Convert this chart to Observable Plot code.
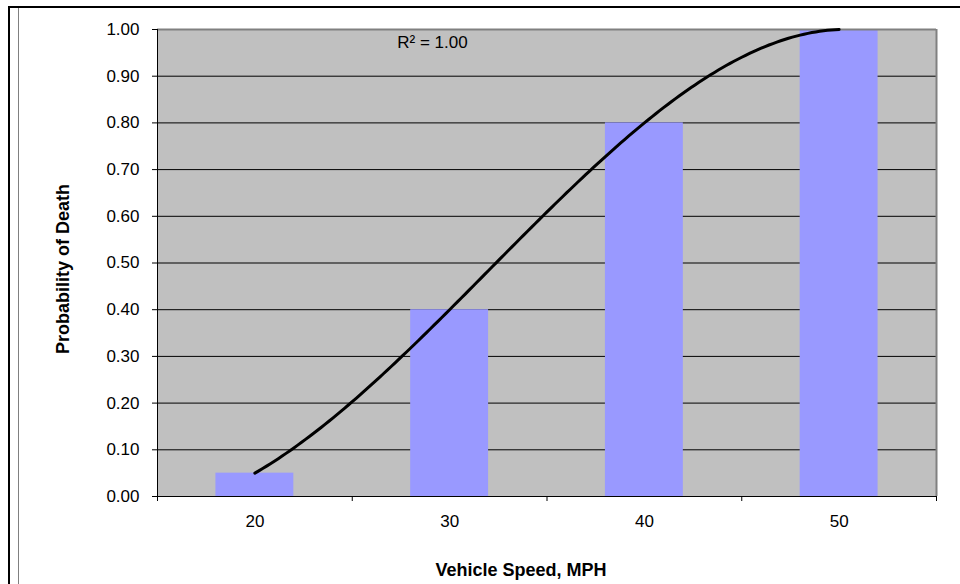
<!DOCTYPE html>
<html>
<head>
<meta charset="utf-8">
<script src="https://cdn.jsdelivr.net/npm/d3@7"></script>
<script src="https://cdn.jsdelivr.net/npm/@observablehq/plot@0.6"></script>
<style>
  body { margin: 0; background: #fff; }
  #wrap { position: relative; width: 960px; height: 584px; overflow: hidden; font-family: "Liberation Sans", Arial, sans-serif; }
  #wrap svg { position: absolute; left: 0; top: 0; }
  .bt { position: absolute; left: 8px; top: 6px; right: 0; height: 2px; background: #000; }
  .bl { position: absolute; left: 8px; top: 6px; bottom: 0; width: 2px; background: #000; }
  .gl { position: absolute; left: 18px; top: 8px; bottom: 0; width: 1px; background: #808080; }
</style>
</head>
<body>
<div id="wrap"><div class="bt"></div><div class="bl"></div><div class="gl"></div></div>
<script>
// ---- data ----
const speeds = [20, 30, 40, 50];            // Vehicle Speed, MPH (categories)
const probDeath = [0.05, 0.40, 0.80, 1.00];  // Probability of Death
const yTicks = [0, 0.1, 0.2, 0.3, 0.4, 0.5, 0.6, 0.7, 0.8, 0.9, 1.0];
const xBoundaries = [15, 25, 35, 45, 55];    // category boundary ticks
const gridLines = [0.1, 0.2, 0.3, 0.4, 0.5, 0.6, 0.7, 0.8, 0.9];

const data = speeds.map((s, i) => ({speed: s, p: probDeath[i]}));

// ---- polynomial (order 3) trendline, least squares, as in the spreadsheet ----
function polyfit(xs, ys, order) {
  const n = order + 1;
  const A = Array.from({length: n}, () => new Array(n + 1).fill(0));
  for (let k = 0; k < xs.length; k++) {
    for (let i = 0; i < n; i++) {
      for (let j = 0; j < n; j++) A[i][j] += Math.pow(xs[k], i + j);
      A[i][n] += ys[k] * Math.pow(xs[k], i);
    }
  }
  for (let c = 0; c < n; c++) {
    let piv = c;
    for (let r = c + 1; r < n; r++) if (Math.abs(A[r][c]) > Math.abs(A[piv][c])) piv = r;
    [A[c], A[piv]] = [A[piv], A[c]];
    for (let r = 0; r < n; r++) {
      if (r === c) continue;
      const f = A[r][c] / A[c][c];
      for (let k = c; k <= n; k++) A[r][k] -= f * A[c][k];
    }
  }
  return A.map((row, i) => row[n] / A[i][i]);
}
// Spreadsheet category trendline uses category index 1..n
const idx = speeds.map((_, i) => i + 1);
const coef = polyfit(idx, probDeath, 3);
const poly = t => coef.reduce((s, c, i) => s + c * Math.pow(t, i), 0);
const meanP = d3.mean(probDeath);
const ssTot = d3.sum(probDeath, v => (v - meanP) ** 2);
const ssRes = d3.sum(idx, (t, i) => (probDeath[i] - poly(t)) ** 2);
const r2 = 1 - ssRes / ssTot;
const step = speeds[1] - speeds[0];
const trend = d3.range(1, speeds.length + 1e-9, 0.02).map(t => ({speed: speeds[0] + (t - 1) * step, p: poly(t)}));

const halfBar = 2;
const font = "'Liberation Sans', Arial, sans-serif";

const chart = Plot.plot({
  width: 960,
  height: 584,
  marginLeft: 157,
  marginRight: 24,
  marginTop: 29,
  marginBottom: 88,
  style: {fontFamily: font, fontSize: "17px", background: "transparent", color: "#000"},
  x: {domain: [15, 55]},
  y: {domain: [0, 1]},
  marks: [
    Plot.frame({fill: "#C0C0C0", stroke: null}),
    Plot.ruleY(gridLines, {stroke: "#000", strokeWidth: 1}),
    Plot.rect(data, {x1: d => d.speed - halfBar, x2: d => d.speed + halfBar, y1: 0, y2: "p", fill: "#9999FF"}),
    Plot.ruleY([1], {stroke: "#808080", strokeWidth: 2}),
    Plot.ruleX([55], {stroke: "#808080", strokeWidth: 2}),
    Plot.ruleX([15], {stroke: "#000", strokeWidth: 1}),
    Plot.ruleY([0], {stroke: "#000", strokeWidth: 1}),
    Plot.line(trend, {x: "speed", y: "p", stroke: "#000", strokeWidth: 3, curve: "linear"}),
    Plot.axisY({ticks: yTicks, tickFormat: d3.format(".2f"), tickSize: 5, tickPadding: 13, label: null, fontSize: 17}),
    Plot.axisX({ticks: xBoundaries, tickFormat: () => "", tickSize: 5, label: null}),
    Plot.axisX({ticks: speeds, tickFormat: d => String(d), tickSize: 0, tickPadding: 18, label: null, fontSize: 17}),
    Plot.text([`R\u00B2 = ${r2.toFixed(2)}`], {text: d => d, frameAnchor: "top-left", dx: 275, dy: 13, textAnchor: "middle", lineAnchor: "middle", fontSize: 17, fill: "#000"}),
    Plot.text(["Probability of Death"], {text: d => d, frameAnchor: "left", dx: -94, dy: 6, rotate: -90, textAnchor: "middle", lineAnchor: "middle", fontSize: 18, fontWeight: "bold", fill: "#000"}),
    Plot.text(["Vehicle Speed, MPH"], {text: d => d, frameAnchor: "bottom", dx: -26, dy: 74, textAnchor: "middle", lineAnchor: "middle", fontSize: 18, fontWeight: "bold", fill: "#000"})
  ]
});
document.getElementById("wrap").prepend(chart);
</script>
</body>
</html>
